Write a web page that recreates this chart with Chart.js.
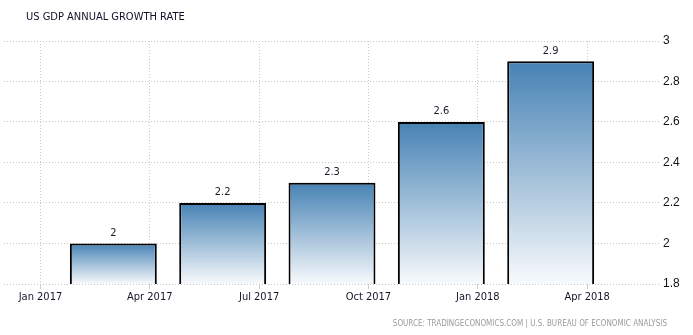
<!DOCTYPE html>
<html>
<head>
<meta charset="utf-8">
<script src="https://cdn.jsdelivr.net/npm/chart.js@4/dist/chart.umd.min.js"></script>
<style>
  html, body { margin: 0; padding: 0; background: #fff; }
  #wrap { width: 693px; height: 335px; }
</style>
</head>
<body>
<div id="wrap"><canvas id="gdp-chart" width="693" height="335"></canvas></div>
<script>
// US GDP annual growth rate, quarterly bars
const quarterLabels = ['Q1 2017', 'Q2 2017', 'Q3 2017', 'Q4 2017', 'Q1 2018'];
const barMonths = [2, 5, 8, 11, 14];          // months after Jan 2017
const growthValues = [2.0, 2.2, 2.3, 2.6, 2.9];
const tickMonths = [0, 3, 6, 9, 12, 15];
const tickLabels = ['Jan 2017', 'Apr 2017', 'Jul 2017', 'Oct 2017', 'Jan 2018', 'Apr 2018'];
const yTicks = [1.8, 2, 2.2, 2.4, 2.6, 2.8, 3];

const TITLE = 'US GDP ANNUAL GROWTH RATE';
const SOURCE = 'SOURCE: TRADINGECONOMICS.COM | U.S. BUREAU OF ECONOMIC ANALYSIS';

const labelFont = '"DejaVu Sans Condensed", "DejaVu Sans", sans-serif';

// per-bar gradient: dark steel blue at the bar top, almost white at the base
function barGradient(c) {
    const chart = c.chart;
    if (!chart.chartArea || c.raw == null) return '#4682b4';
    const y = chart.scales.y;
    const top = y.getPixelForValue(c.raw.y);
    const bottom = y.getPixelForValue(y.min);
    const g = chart.ctx.createLinearGradient(0, top, 0, bottom);
    g.addColorStop(0, 'rgb(70,130,180)');
    g.addColorStop(1, 'rgb(248,250,252)');
    return g;
}

const textPlugin = {
    id: 'textPlugin',
    afterDatasetsDraw(chart) {
        const ctx = chart.ctx;
        const meta = chart.getDatasetMeta(0);
        ctx.save();
        ctx.font = '11px ' + labelFont;
        ctx.fillStyle = '#1b1b2b';
        ctx.textAlign = 'center';
        ctx.textBaseline = 'bottom';
        meta.data.forEach((bar, i) => {
            ctx.fillText(String(growthValues[i]), bar.x, bar.y - 5);
        });
        ctx.restore();
    },
    afterDraw(chart) {
        const ctx = chart.ctx;
        ctx.save();
        ctx.font = '11px ' + labelFont;
        ctx.fillStyle = '#10102a';
        ctx.textAlign = 'left';
        ctx.textBaseline = 'middle';
        ctx.fillText(TITLE, 26, 17);

        ctx.font = '8px ' + labelFont;
        ctx.fillStyle = '#9a9a9a';
        ctx.textAlign = 'right';
        ctx.fillText(SOURCE, 667, 324);
        ctx.restore();
    }
};

new Chart(document.getElementById('gdp-chart').getContext('2d'), {
    type: 'bar',
    data: {
        labels: quarterLabels,
        datasets: [{
            label: 'GDP Annual Growth Rate',
            data: barMonths.map((m, i) => ({ x: m, y: growthValues[i] })),
            backgroundColor: barGradient,
            borderColor: '#000',
            borderWidth: 2,
            borderSkipped: false,
            categoryPercentage: 1,
            barPercentage: 0.795
        }]
    },
    options: {
        responsive: false,
        animation: false,
        layout: { padding: { top: 41, left: 4, right: 0, bottom: 0 } },
        plugins: {
            legend: { display: false },
            tooltip: { enabled: false },
            title: { display: false }
        },
        scales: {
            x: {
                type: 'linear',
                min: -1,
                max: 17,
                offset: false,
                afterBuildTicks: s => { s.ticks = tickMonths.map(v => ({ value: v })); },
                afterFit: s => { s.height = 51; },
                border: { display: false, dash: [1, 2] },
                grid: {
                    offset: false,
                    color: '#c8c8c8',
                    lineWidth: 1,
                    tickLength: 5,
                    tickColor: '#cfcfcf'
                },
                ticks: {
                    autoSkip: false,
                    maxRotation: 0,
                    padding: 2,
                    color: '#15152a',
                    font: { family: labelFont, size: 11 },
                    callback: v => tickLabels[tickMonths.indexOf(v)]
                }
            },
            y: {
                position: 'right',
                min: 1.8,
                max: 3,
                afterBuildTicks: s => { s.ticks = yTicks.map(v => ({ value: v })); },
                afterFit: s => { s.width = 33; },
                border: { display: false, dash: [1, 2] },
                grid: {
                    color: '#c8c8c8',
                    lineWidth: 1,
                    drawTicks: false
                },
                ticks: {
                    padding: 3,
                    color: '#111',
                    font: { family: '"Liberation Sans", Arial, sans-serif', size: 12 },
                    callback: v => String(v)
                }
            }
        }
    },
    plugins: [textPlugin]
});
</script>
</body>
</html>
